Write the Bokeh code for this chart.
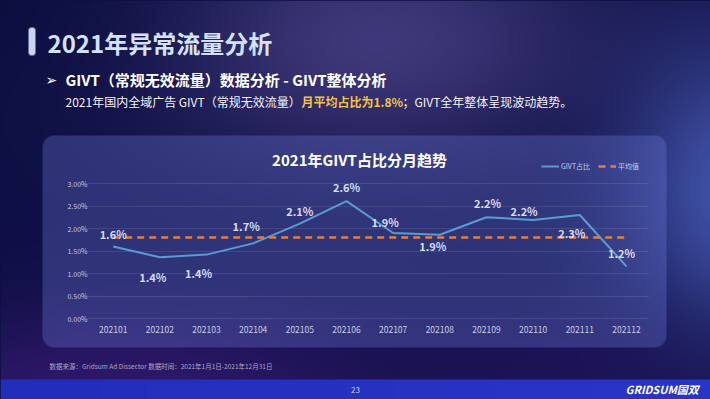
import numpy as np
from bokeh.plotting import figure
from bokeh.models import Range1d, LinearAxis, FixedTicker, NumeralTickFormatter, Grid
from bokeh.core.properties import value
from bokeh.embed import file_html
from bokeh.resources import INLINE

# ---------------- data ----------------
months = ["202101", "202102", "202103", "202104", "202105", "202106",
          "202107", "202108", "202109", "202110", "202111", "202112"]
givt = [0.0160, 0.0136, 0.0142, 0.0167, 0.0211, 0.0261,
        0.0190, 0.0186, 0.0225, 0.0219, 0.0230, 0.0116]
givt_labels = ["1.6%", "1.4%", "1.4%", "1.7%", "2.1%", "2.6%",
               "1.9%", "1.9%", "2.2%", "2.2%", "2.3%", "1.2%"]
avg_value = 0.018
y_ticks = [0.0, 0.005, 0.01, 0.015, 0.02, 0.025, 0.03]

# label placement (pixel offsets, style only)
label_dx = [0, -7, -8, -7, 0, 0, -8, -7, 1, -9, -8, -5]
label_dy = [-13, 20, 18, -17, -13, -14, -11, 11, -14, -9, 18, -13]

# ---------------- canvas geometry ----------------
W, H = 710, 399
X0PX, STEP = 112.7, 46.66        # pixel of first month, spacing
ZEROPX, PXPER = 318.0, 4500.0    # pixel of 0 %, pixels per unit
XS, XE = -X0PX / STEP, (W - X0PX) / STEP
YS, YE = (ZEROPX - H) / PXPER, ZEROPX / PXPER

def dx(px):
    return XS + px * (XE - XS) / W

def dy(py):
    return YE - py * (YE - YS) / H

idx = list(range(len(months)))
avg_series = [avg_value] * len(months)

p = figure(width=W, height=H, x_range=Range1d(XS, XE), y_range=Range1d(YS, YE),
           output_backend="svg", toolbar_location=None,
           x_axis_type=None, y_axis_type=None, min_border=0,
           outline_line_color=None, background_fill_color="#0e0f44",
           border_fill_color="#0e0f44")
p.xgrid.visible = False
p.ygrid.visible = False

# ---------------- background picture ----------------
xx, yy = np.meshgrid(np.arange(W) + 0.5, np.arange(H) + 0.5)
img = np.zeros((H, W, 3))
img[:] = (14, 15, 68)

def blend(mask, color):
    m = mask[..., None]
    img[:] = img * (1 - m) + np.array(color, float) * m

def glow(cx, cy, rx, ry, color, s):
    blend(s * np.exp(-((xx - cx) / rx) ** 2 - ((yy - cy) / ry) ** 2), color)

def rrect(x0, y0, x1, y1, r):
    qx = np.abs(xx - (x0 + x1) / 2) - ((x1 - x0) / 2 - r)
    qy = np.abs(yy - (y0 + y1) / 2) - ((y1 - y0) / 2 - r)
    d = np.sqrt(np.maximum(qx, 0) ** 2 + np.maximum(qy, 0) ** 2) + np.minimum(np.maximum(qx, qy), 0) - r
    return np.clip(0.5 - d, 0, 1)

glow(370, 40, 230, 120, (72, 64, 132), 0.85)
glow(730, 190, 110, 150, (72, 92, 182), 0.85)
glow(120, 395, 280, 90, (52, 26, 112), 0.85)
glow(560, 370, 160, 60, (40, 22, 100), 0.5)
glow(0, 0, 200, 120, (10, 12, 60), 0.6)

blend(rrect(42, 135, 666, 347, 12) * 0.33, (108, 122, 218))
blend(rrect(28, 27, 35, 55, 3), (200, 214, 240))
band = (yy >= 379).astype(float)
blend(band, (34, 46, 186))
blend(band * (xx / W) * 0.6, (44, 58, 210))

rgba = np.dstack([np.clip(img, 0, 255).astype(np.uint8),
                  np.full((H, W), 255, np.uint8)])[::-1].copy()
p.image_rgba(image=[rgba.view(np.uint32).reshape(H, W)], x=XS, y=YS,
             dw=XE - XS, dh=YE - YS, level="image")

# ---------------- axes & grid ----------------
yax = LinearAxis(fixed_location=dx(92), ticker=FixedTicker(ticks=y_ticks),
                 formatter=NumeralTickFormatter(format="0.00%"))
yax.axis_line_color = None
yax.major_tick_line_color = None
yax.minor_tick_line_color = None
yax.major_tick_out = 0
yax.major_tick_in = 0
yax.major_label_standoff = 5
yax.major_label_text_font = "Noto Sans CJK SC"
yax.major_label_text_font_size = "7px"
yax.major_label_text_color = "#c3c7e4"
p.add_layout(yax, "left")

xax = LinearAxis(fixed_location=0, ticker=FixedTicker(ticks=idx),
                 major_label_overrides={i: m for i, m in zip(idx, months)})
xax.axis_line_color = None
xax.major_tick_line_color = None
xax.minor_tick_line_color = None
xax.major_tick_out = 0
xax.major_tick_in = 0
xax.major_label_standoff = 7
xax.major_label_text_font = "Noto Sans CJK SC"
xax.major_label_text_font_size = "8.5px"
xax.major_label_text_color = "#c8cce8"
p.add_layout(xax, "below")

grid = Grid(dimension=1, ticker=FixedTicker(ticks=y_ticks),
            grid_line_color="#ffffff", grid_line_alpha=0.1, grid_line_width=1)
try:
    grid.cross_bounds = (dx(87), dx(648))
except Exception:
    pass
p.add_layout(grid)

# ---------------- series ----------------
p.line(x=idx, y=givt, line_color="#5b9bd5", line_width=2, legend_label="GIVT占比")
p.line(x=idx, y=avg_series, line_color="#ed7d31", line_width=2.5,
       line_dash="7 5", legend_label="平均值")
p.text(x=idx, y=givt, text=givt_labels, x_offset=label_dx, y_offset=label_dy,
       text_font=value("Noto Sans CJK SC"), text_font_size="11px",
       text_font_style="bold", text_color="#d8dcf6",
       text_align="center", text_baseline="middle")

leg = p.legend[0]
leg.orientation = "horizontal"
leg.location = (541, H - 171)
leg.background_fill_alpha = 0
leg.border_line_color = None
leg.padding = 0
leg.margin = 0
leg.spacing = 8
leg.label_standoff = 2
leg.glyph_width = 18
leg.glyph_height = 10
leg.label_height = 10
leg.label_text_font = "Noto Sans CJK SC"
leg.label_text_font_size = "7px"
leg.label_text_color = "#c8cce8"

# ---------------- slide texts ----------------
def txt(px, py, s, size, color, style="normal", align="left",
        font="Noto Sans CJK SC"):
    p.text(x=[dx(px)], y=[dy(py)], text=[s], text_font=value(font),
           text_font_size=size, text_font_style=style, text_color=color,
           text_align=align, text_baseline="middle")

txt(47, 42, "2021年异常流量分析", "24px", "#d4e2ff", "bold")
txt(45, 79, "➢", "14px", "#ffffff", font="DejaVu Sans")
txt(65, 79, "GIVT（常规无效流量）数据分析 - GIVT整体分析", "15px", "#ffffff", "bold")
txt(65, 101, "2021年国内全域广告 GIVT（常规无效流量）", "12px", "#f2f2f8")
txt(301, 101, "月平均占比为1.8%", "12px", "#f6c343", "bold")
txt(402, 101, "；GIVT全年整体呈现波动趋势。", "12px", "#f2f2f8")
txt(359, 159, "2021年GIVT占比分月趋势", "15px", "#ffffff", "bold", "center")
txt(49, 365, "数据来源：Gridsum Ad Dissector 数据时间：2021年1月1日-2021年12月31日",
    "6.5px", "#a4a8cc")
txt(355, 389, "23", "8px", "#c8d0f4", align="center")
txt(625, 388, "GRIDSUM国双", "11px", "#ffffff", "bold italic")

html = file_html(p, INLINE)
html = html.replace("<head>", "<head><style>html,body{margin:0;padding:0;overflow:hidden;background:#0e0f44}</style>", 1)
open("out.html", "w").write(html)
